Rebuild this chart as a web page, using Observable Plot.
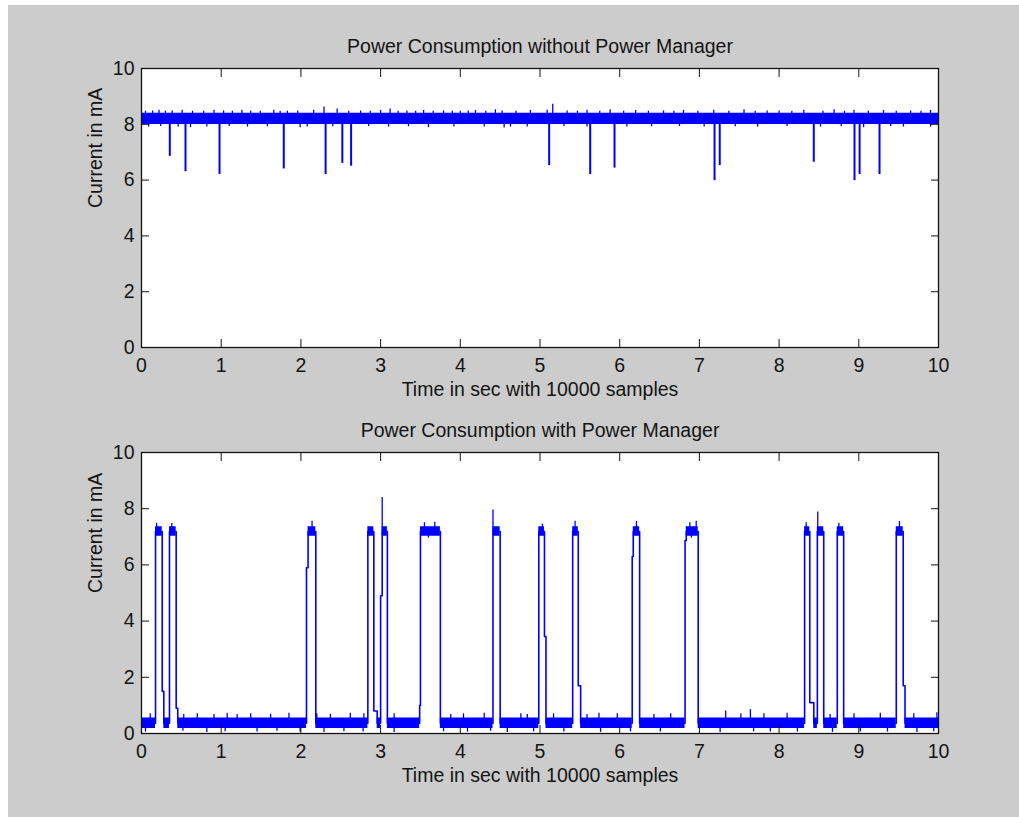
<!DOCTYPE html>
<html>
<head>
<meta charset="utf-8">
<script src="https://cdn.jsdelivr.net/npm/d3@7"></script>
<script src="https://cdn.jsdelivr.net/npm/@observablehq/plot@0.6"></script>
<style>
  html, body { margin: 0; padding: 0; background: #ffffff; }
  #fig { position: absolute; left: 8px; top: 5px; width: 1011px; height: 812px; background: #cccccc; }
  .panel { position: absolute; left: 0; }
</style>
</head>
<body>
<div id="fig"></div>
<div id="top" class="panel" style="top:0px"></div>
<div id="bot" class="panel" style="top:405px"></div>
<script>
// ---------- data ----------
const xTicks = [0, 1, 2, 3, 4, 5, 6, 7, 8, 9, 10];
const yTicks = [0, 2, 4, 6, 8, 10];

const titleTop = "Power Consumption without Power Manager";
const titleBot = "Power Consumption with Power Manager";
const xLabel = "Time in sec with 10000 samples";
const yLabel = "Current in mA";

// Top panel: noisy band around 8 mA
const topBandT  = [0, 10];
const topBandLo = [7.99, 7.99];
const topBandHi = [8.40, 8.40];

// Top panel: short dips (time in s, minimum in mA)
const topDipT   = [0.355, 0.552, 0.979, 1.785, 2.31, 2.52, 2.63, 5.115, 5.63, 5.935, 7.19, 7.255, 8.435, 8.946, 9.01, 9.26];
const topDipMin = [6.85, 6.30, 6.20, 6.40, 6.20, 6.60, 6.50, 6.52, 6.20, 6.43, 5.98, 6.52, 6.64, 5.98, 6.20, 6.20];

// Top panel: small noise peaks above / below the band
const topUpT = [0.05, 0.14, 0.22, 0.30, 0.385, 0.51, 0.64, 0.78, 0.91, 1.03, 1.14, 1.26, 1.37, 1.49, 1.66, 1.74, 1.83, 1.96, 2.16, 2.29, 2.455, 2.60, 2.75, 2.87, 3.0, 3.12, 3.22, 3.33, 3.44, 3.54, 3.66, 3.79, 3.90, 4.0, 4.10, 4.19, 4.32, 4.44, 4.525, 4.70, 4.88, 5.09, 5.16, 5.34, 5.47, 5.59, 5.75, 5.88, 6.05, 6.2, 6.36, 6.55, 6.68, 6.8, 6.98, 7.18, 7.37, 7.56, 7.70, 7.85, 8.0, 8.16, 8.31, 8.55, 8.69, 8.82, 8.94, 9.12, 9.31, 9.47, 9.65, 9.78, 9.9];
const topUpV = [8.47, 8.48, 8.50, 8.47, 8.48, 8.50, 8.47, 8.47, 8.50, 8.48, 8.47, 8.50, 8.48, 8.47, 8.50, 8.47, 8.47, 8.48, 8.50, 8.62, 8.55, 8.47, 8.48, 8.47, 8.50, 8.55, 8.47, 8.48, 8.47, 8.50, 8.47, 8.48, 8.47, 8.47, 8.48, 8.50, 8.47, 8.52, 8.48, 8.47, 8.50, 8.50, 8.72, 8.48, 8.47, 8.50, 8.47, 8.52, 8.47, 8.50, 8.47, 8.48, 8.47, 8.50, 8.47, 8.50, 8.47, 8.52, 8.47, 8.48, 8.48, 8.47, 8.50, 8.47, 8.52, 8.47, 8.50, 8.47, 8.50, 8.47, 8.48, 8.47, 8.50];
const topDownT = [0.09, 0.24, 0.46, 0.615, 0.82, 1.10, 1.33, 1.58, 1.99, 2.08, 2.40, 2.85, 3.10, 3.35, 3.60, 3.92, 4.30, 4.55, 4.63, 4.84, 5.30, 5.59, 6.09, 6.40, 6.75, 7.06, 7.45, 7.73, 8.10, 8.52, 8.78, 9.06, 9.40, 9.56, 9.90];
const topDownV = [7.90, 7.92, 7.90, 7.88, 7.90, 7.92, 7.90, 7.91, 7.88, 7.90, 7.91, 7.92, 7.90, 7.91, 7.88, 7.90, 7.90, 7.87, 7.90, 7.90, 7.92, 7.90, 7.90, 7.91, 7.92, 7.90, 7.91, 7.90, 7.92, 7.90, 7.91, 7.88, 7.92, 7.90, 7.90];

// Bottom panel: piecewise levels (segment start time, band low, band high)
const botSegT  = [0, 0.176, 0.26, 0.28, 0.351, 0.435, 0.455, 2.07, 2.09, 2.187, 2.84, 2.915, 2.957, 3.0, 3.02, 3.085, 3.49, 3.5, 3.75, 4.41, 4.5, 4.985, 5.056, 5.075, 5.41, 5.48, 5.51, 6.157, 6.17, 6.25, 6.82, 6.835, 6.985, 8.32, 8.385, 8.435, 8.48, 8.56, 8.73, 8.81, 9.47, 9.557, 9.58, 10];
const botSegLo = [0.18, 7.02, 1.5, 0.18, 7.02, 0.9, 0.18, 5.9, 7.02, 0.18, 7.02, 0.8, 0.18, 4.9, 7.02, 0.18, 1.0, 7.02, 0.18, 7.02, 0.18, 7.02, 3.45, 0.18, 7.02, 1.7, 0.18, 6.3, 7.02, 0.18, 6.87, 7.02, 0.18, 7.02, 1.1, 0.18, 7.02, 0.18, 7.02, 0.18, 7.02, 1.7, 0.18, 0.18];
const botSegHi = [0.55, 7.36, 1.5, 0.55, 7.36, 0.9, 0.55, 5.9, 7.36, 0.55, 7.36, 0.8, 0.55, 4.9, 7.36, 0.55, 1.0, 7.36, 0.55, 7.36, 0.55, 7.36, 3.45, 0.55, 7.36, 1.7, 0.55, 6.3, 7.36, 0.55, 6.87, 7.36, 0.55, 7.36, 1.1, 0.55, 7.36, 0.55, 7.36, 0.55, 7.36, 1.7, 0.55, 0.55];

// Bottom panel: peaks sticking out of the band (time, value)
const botSpikeT = [3.02, 4.41, 8.485,
  0.19, 0.38, 2.14, 3.55, 3.68, 5.03, 5.44, 6.21, 6.88, 6.96, 8.34, 8.75, 9.51, 3.60, 6.90,
  0.11, 0.53, 0.70, 0.91, 1.075, 1.20, 1.37, 1.62, 1.85, 2.20, 2.37, 2.62, 2.79, 3.17, 3.88, 4.04, 4.30, 4.76, 4.84, 5.17, 5.59, 5.74, 5.97, 6.43, 6.64, 7.33, 7.52, 7.64, 7.81, 8.10, 8.64, 8.94, 9.27, 9.69, 9.98,
  0.05, 0.52, 0.82, 1.05, 1.45, 1.70, 1.99, 2.29, 2.54, 2.78, 3.17, 3.79, 4.09, 4.38, 4.59, 4.92, 5.30, 5.76, 6.135, 6.51, 7.26, 7.68, 7.89, 8.23, 8.67, 9.02, 9.36, 9.73, 9.94];
const botSpikeV = [8.40, 7.95, 7.88,
  7.48, 7.47, 7.55, 7.50, 7.52, 7.45, 7.55, 7.55, 7.50, 7.55, 7.50, 7.48, 7.55, 6.95, 6.95,
  0.70, 0.68, 0.70, 0.68, 0.72, 0.68, 0.70, 0.68, 0.72, 0.70, 0.68, 0.72, 0.70, 0.70, 0.68, 0.70, 0.72, 0.70, 0.68, 0.70, 0.68, 0.72, 0.70, 0.68, 0.70, 0.80, 0.70, 0.85, 0.70, 0.72, 0.68, 0.70, 0.72, 0.70, 0.74,
  0.05, 0.08, 0.04, 0.06, 0.05, 0.08, 0.05, 0.04, 0.06, 0.05, 0.04, 0.06, 0.05, 0.08, 0.04, 0.06, 0.05, 0.04, 0.06, 0.05, 0.04, 0.06, 0.05, 0.05, 0.04, 0.06, 0.05, 0.04, 0.06];

// ---------- build tables ----------
const topBand = topBandT.map((t, i) => ({t, lo: topBandLo[i], hi: topBandHi[i]}));
const topCenter = (topBandLo[0] + topBandHi[0]) / 2;
const topDips = topDipT.map((t, i) => ({t, v: topDipMin[i]}));
const topNoise = topUpT.map((t, i) => ({t, v: topUpV[i]}))
  .concat(topDownT.map((t, i) => ({t, v: topDownV[i]})));

const botSegs = botSegT.map((t, i) => ({t, lo: botSegLo[i], hi: botSegHi[i], mid: (botSegLo[i] + botSegHi[i]) / 2}));
function botBase(t) {
  let k = 0;
  for (let i = 0; i < botSegT.length; i++) if (botSegT[i] <= t) k = i;
  return botSegs[k].mid;
}
const botSpikes = botSpikeT.map((t, i) => ({t, v: botSpikeV[i], base: botBase(t)}));

const BLUE = "#0000ff";
const INK = "#141414";
const FONT = "'Liberation Sans', Arial, Helvetica, sans-serif";

function axes() {
  return [
    Plot.axisX(xTicks, {anchor: "bottom", tickSize: -8, tickPadding: 19, tickFormat: d => String(d), label: null, stroke: INK, fill: INK}),
    Plot.axisX(xTicks, {anchor: "top", tickSize: -8, tickFormat: () => "", label: null, stroke: INK}),
    Plot.axisY(yTicks, {anchor: "left", tickSize: -8, tickPadding: 15, tickFormat: d => String(d), label: null, stroke: INK, fill: INK}),
    Plot.axisY(yTicks, {anchor: "right", tickSize: -8, tickFormat: () => "", label: null, stroke: INK})
  ];
}
function labels(title, titleDy) {
  return [
    Plot.text([title], {text: d => d, frameAnchor: "top", dy: titleDy, fill: INK}),
    Plot.text([xLabel], {text: d => d, frameAnchor: "bottom", dy: 48, fill: INK}),
    Plot.text([yLabel], {text: d => d, frameAnchor: "left", dx: -46, rotate: -90, fill: INK})
  ];
}
const common = {
  width: 1019,
  marginLeft: 141,
  marginRight: 81,
  x: {domain: [0, 10]},
  y: {domain: [0, 10]},
  style: {background: "transparent", color: INK, fontSize: "19.5px", fontFamily: FONT, overflow: "visible"}
};

const topChart = Plot.plot({
  ...common,
  height: 405,
  marginTop: 68,
  marginBottom: 58,
  marks: [
    Plot.frame({fill: "white", stroke: null}),
    Plot.areaY(topBand, {x: "t", y1: "lo", y2: "hi", fill: BLUE, curve: "step-after"}),
    Plot.ruleX(topNoise, {x: "t", y1: topCenter, y2: "v", stroke: BLUE, strokeWidth: 1.3}),
    Plot.ruleX(topDips, {x: "t", y1: topCenter, y2: "v", stroke: BLUE, strokeWidth: 2}),
    ...axes(),
    Plot.frame({stroke: INK, strokeWidth: 1.3}),
    ...labels(titleTop, -29)
  ]
});
document.getElementById("top").appendChild(topChart);

const botChart = Plot.plot({
  ...common,
  height: 412,
  marginTop: 47,
  marginBottom: 84,
  marks: [
    Plot.frame({fill: "white", stroke: null}),
    Plot.areaY(botSegs, {x: "t", y1: "lo", y2: "hi", fill: BLUE, curve: "step-after"}),
    Plot.lineY(botSegs, {x: "t", y: "mid", stroke: BLUE, strokeWidth: 1.6, curve: "step-after"}),
    Plot.ruleX(botSpikes, {x: "t", y1: "base", y2: "v", stroke: BLUE, strokeWidth: 1.3}),
    ...axes(),
    Plot.frame({stroke: INK, strokeWidth: 1.3}),
    ...labels(titleBot, -29)
  ]
});
document.getElementById("bot").appendChild(botChart);
</script>
</body>
</html>
